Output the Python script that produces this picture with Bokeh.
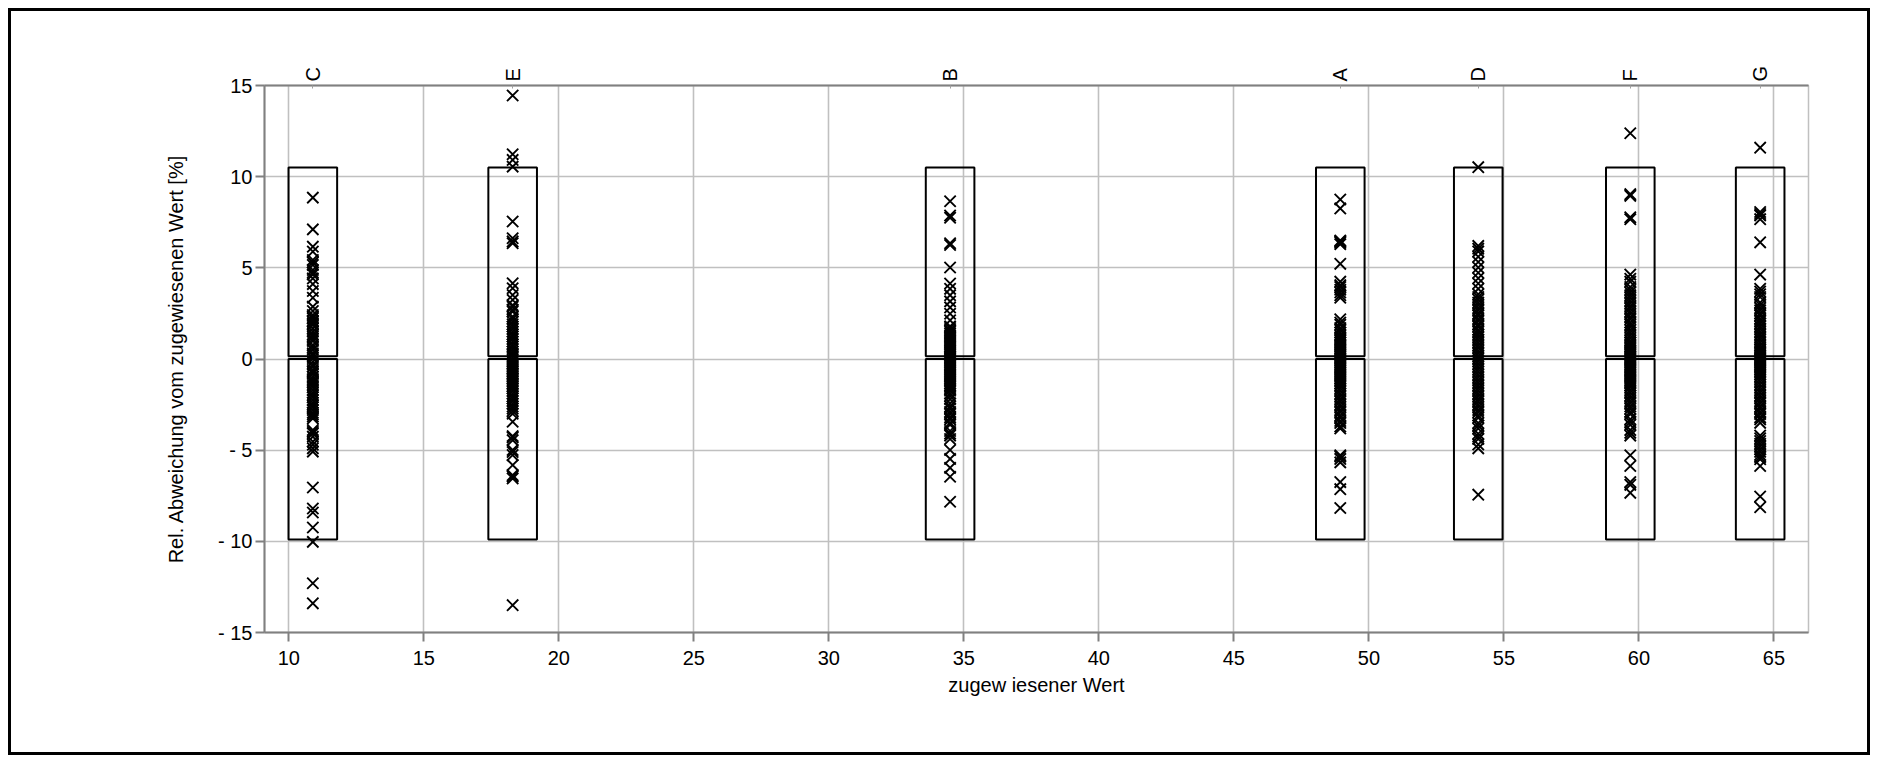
from bokeh.plotting import figure
from bokeh.models import (Range1d, FixedTicker, LinearAxis, CustomJSTickFormatter,
                          ColumnDataSource)
from bokeh.embed import file_html
from bokeh.resources import INLINE

# ---------------- data ----------------
categories = ["C", "E", "B", "A", "D", "F", "G"]
assigned = [10.89, 18.29, 34.49, 48.94, 54.05, 59.68, 64.49]

dev_C = [8.85, 7.11, 6.16, 5.89, 5.43, 5.16, 4.88, 4.64, 4.42, 4.11, 3.73, 3.36, 2.87,
         2.63, 2.41, 2.23, 2.05, 1.87, 1.68, 1.5, 1.23, 0.99, 0.77, 0.5, 0.31, 0.2,
         -0.15, -0.42, -0.6, -0.79, -0.97, -1.21, -1.43, -1.7, -1.98, -2.25, -2.53,
         -2.8, -3.04, -3.26, -3.9, -4.08, -4.26, -4.53, -4.9, -5.08, -7.05, -8.2,
         -8.42, -9.24, -10.03, -12.3, -13.4,
         5.3, 4.75, 2.3, 2.1, 1.95, 1.35, 1.1, 0.65, 0.05, -0.3, -0.7, -1.1, -1.3,
         -1.55, -1.85, -2.1, -2.4, -2.65, -2.95, -3.15, -4.0, -4.7]
dev_E = [14.45, 11.23, 10.92, 10.55, 7.54, 6.62, 6.35, 6.45, 4.15, 3.88, 3.51, 3.24,
         2.87, 2.6, 2.32, 2.05, 1.78, 1.5, 1.23, 0.96, 0.68, 0.41, 0.22, 0.1, -0.15,
         -0.33, -0.52, -0.7, -0.88, -1.07, -1.25, -1.43, -1.62, -1.9, -2.17, -2.45,
         -2.72, -3.0, -3.44, -4.23, -4.45, -4.99, -5.27, -5.82, -6.37, -6.55, -13.5,
         2.95, 2.7, 2.2, 1.9, 1.65, 1.35, 1.1, 0.8, 0.55, 0.3, -0.05, -0.25, -0.42,
         -0.6, -0.8, -0.98, -1.15, -1.35, -1.52, -1.75, -2.05, -2.3, -2.6, -2.85,
         -4.3, -5.1, -6.45]
dev_B = [8.65, 7.87, 7.75, 6.35, 6.25, 5.02, 4.14, 3.85, 3.5, 3.16, 2.83, 2.48, 2.12,
         1.79, 1.59, 1.4, 1.2, 1.0, 0.81, 0.61, 0.42, 0.22, 0.03, -0.17, -0.36, -0.56,
         -0.76, -0.95, -1.15, -1.35, -1.54, -1.74, -2.03, -2.43, -2.72, -3.02, -3.31,
         -3.6, -4.09, -4.39, -4.99, -5.48, -5.97, -6.46, -7.83,
         1.7, 1.5, 1.3, 1.1, 0.9, 0.7, 0.5, 0.32, 0.12, -0.07, -0.27, -0.46, -0.66,
         -0.85, -1.05, -1.25, -1.45, -1.64, -1.9, -2.2, -2.6, -2.9, -3.2, -3.5,
         -3.95, -4.2]
dev_A = [8.75, 8.26, 6.5, 6.4, 6.3, 5.22, 4.24, 3.95, 3.65, 3.36, 2.18, 1.88, 1.59,
         1.3, 1.1, 0.9, 0.71, 0.51, 0.32, 0.12, -0.08, -0.27, -0.47, -0.66, -0.86,
         -1.06, -1.25, -1.45, -1.74, -2.04, -2.33, -2.63, -2.92, -3.22, -3.51, -3.81,
         -5.28, -5.48, -5.67, -6.75, -7.14, -8.17,
         6.45, 4.05, 3.8, 3.5, 2.0, 1.7, 1.45, 1.2, 1.0, 0.8, 0.6, 0.42, 0.22, 0.02,
         -0.18, -0.37, -0.56, -0.76, -0.96, -1.15, -1.35, -1.6, -1.9, -2.2, -2.5,
         -2.8, -3.1, -3.4, -3.7, -5.35]
dev_D = [10.52, 6.2, 5.9, 5.61, 5.32, 5.02, 4.73, 4.43, 4.14, 3.85, 3.55, 3.26, 2.96,
         2.67, 2.38, 2.08, 1.79, 1.49, 1.2, 0.9, 0.61, 0.32, 0.02, -0.27, -0.56, -0.86,
         -1.15, -1.45, -1.74, -2.04, -2.33, -2.63, -2.92, -3.22, -3.51, -3.81, -4.1,
         -4.39, -4.69, -4.9, -7.44,
         6.05, 3.4, 3.1, 2.8, 2.5, 2.2, 1.9, 1.6, 1.35, 1.05, 0.75, 0.45, 0.17, -0.12,
         -0.42, -0.7, -1.0, -1.3, -1.6, -1.9, -2.2, -2.5, -2.8, -3.1, -3.65, -4.25]
dev_F = [12.38, 9.04, 8.95, 7.77, 7.67, 4.63, 4.24, 3.95, 3.65, 3.36, 3.06, 2.77,
         2.47, 2.18, 1.88, 1.59, 1.3, 1.0, 0.81, 0.61, 0.42, 0.22, 0.02, -0.17, -0.37,
         -0.57, -0.76, -0.96, -1.16, -1.35, -1.55, -1.84, -2.14, -2.43, -2.73, -3.02,
         -3.31, -3.61, -4.2, -5.28, -5.87, -6.75, -7.34,
         4.4, 3.8, 3.5, 3.2, 2.9, 2.6, 2.3, 2.0, 1.75, 1.45, 1.15, 0.9, 0.7, 0.5, 0.32,
         0.12, -0.07, -0.27, -0.47, -0.66, -0.86, -1.06, -1.25, -1.45, -1.7, -2.0,
         -2.3, -2.6, -2.9, -3.45, -3.9, -4.05, -6.9]
dev_G = [11.59, 8.06, 7.87, 7.67, 6.4, 4.63, 3.85, 3.55, 2.96, 2.67, 2.38, 2.08, 1.79,
         1.49, 1.2, 0.9, 0.61, 0.42, 0.22, 0.02, -0.17, -0.37, -0.57, -0.76, -0.96,
         -1.25, -1.55, -1.84, -2.14, -2.43, -2.73, -3.02, -3.31, -4.2, -4.5, -4.79,
         -5.09, -5.38, -5.87, -7.54, -8.13,
         7.95, 3.7, 3.4, 3.1, 2.8, 2.5, 2.2, 1.95, 1.65, 1.35, 1.05, 0.75, 0.52, 0.32,
         0.12, -0.07, -0.27, -0.47, -0.66, -0.86, -1.1, -1.4, -1.7, -2.0, -2.3, -2.6,
         -2.9, -3.2, -3.5, -4.35, -4.65, -4.95, -5.25, -5.5]
deviations = [dev_C, dev_E, dev_B, dev_A, dev_D, dev_F, dev_G]

# tolerance boxes (upper and lower part)
box_upper = [0.15, 10.5]
box_lower = [-9.9, 0.0]
box_halfwidth = 0.9

x_ticks = [10, 15, 20, 25, 30, 35, 40, 45, 50, 55, 60, 65]
y_ticks = [-15, -10, -5, 0, 5, 10, 15]

# ---------------- figure ----------------
FONT = "Liberation Sans"
p = figure(width=1862, height=747, output_backend="svg", toolbar_location=None,
           x_range=Range1d(9.1, 66.28), y_range=Range1d(-15, 15),
           min_border_left=253, min_border_right=65, min_border_top=74,
           min_border_bottom=126, background_fill_color="white",
           border_fill_color="white", outline_line_color="#c0c0c0",
           outline_line_width=1.5)
p.styles = {"border": "3px solid black", "margin-left": "8px", "margin-top": "8px"}

# grid
p.xgrid.ticker = FixedTicker(ticks=x_ticks)
p.ygrid.ticker = FixedTicker(ticks=y_ticks)
for g in (p.xgrid[0], p.ygrid[0]):
    g.grid_line_color = "#c0c0c0"
    g.grid_line_width = 1.6

# bottom axis
xa = p.xaxis[0]
xa.ticker = FixedTicker(ticks=x_ticks)
xa.axis_label = "zugew iesener Wert"
# left axis
ya = p.yaxis[0]
ya.ticker = FixedTicker(ticks=y_ticks)
ya.formatter = CustomJSTickFormatter(
    code="return tick < 0 ? '- ' + Math.abs(tick) : String(tick);")
ya.axis_label = "Rel. Abweichung vom zugewiesenen Wert [%]"

for ax in (xa, ya):
    ax.axis_line_color = "#808080"
    ax.axis_line_width = 2
    ax.major_tick_line_color = "#808080"
    ax.major_tick_line_width = 2
    ax.major_tick_out = 9
    ax.major_tick_in = 0
    ax.minor_tick_line_color = None
    ax.major_label_text_font = FONT
    ax.major_label_text_font_size = "20px"
    ax.major_label_text_color = "black"
    ax.axis_label_text_font = FONT
    ax.axis_label_text_font_size = "20px"
    ax.axis_label_text_font_style = "normal"
    ax.axis_label_text_color = "black"
xa.major_label_standoff = 9
xa.axis_label_standoff = 6
ya.major_label_standoff = 3
ya.axis_label_standoff = 28

# top axis with category names
top = LinearAxis(ticker=FixedTicker(ticks=assigned),
                 formatter=CustomJSTickFormatter(args=dict(labels=categories),
                                                 code="return labels[index];"))
top.axis_line_color = "#808080"
top.axis_line_width = 2
top.major_tick_in = 3
top.major_tick_out = 0
top.major_tick_line_color = "#a0a0a0"
top.minor_tick_line_color = None
top.major_label_orientation = "vertical"
top.major_label_text_font = FONT
top.major_label_text_font_size = "20px"
top.major_label_text_color = "black"
top.major_label_standoff = 4
p.add_layout(top, "above")

# boxes
bx = dict(left=[c - box_halfwidth for c in assigned],
          right=[c + box_halfwidth for c in assigned])
p.quad(left=bx["left"], right=bx["right"], bottom=box_upper[0], top=box_upper[1],
       fill_color=None, line_color="black", line_width=2)
p.quad(left=bx["left"], right=bx["right"], bottom=box_lower[0], top=box_lower[1],
       fill_color=None, line_color="black", line_width=2)

# points
xs, ys = [], []
for c, vals in zip(assigned, deviations):
    xs += [c] * len(vals)
    ys += vals
src = ColumnDataSource(dict(x=xs, y=ys))
p.scatter("x", "y", source=src, marker="x", size=16, line_color="black",
          line_width=1.9)

open("out.html", "w").write(file_html(p, INLINE))
